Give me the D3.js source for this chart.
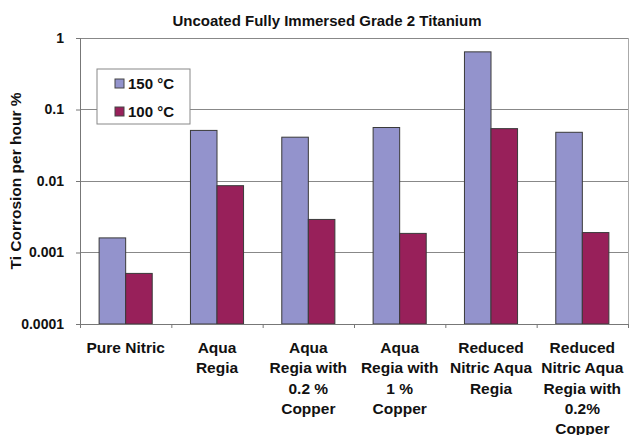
<!DOCTYPE html>
<html>
<head>
<meta charset="utf-8">
<script src="https://cdn.jsdelivr.net/npm/d3@7"></script>
<style>
  body { margin: 0; background: #fff; }
  text { font-family: "Liberation Sans", Arial, sans-serif; font-weight: bold; fill: #111; }
</style>
</head>
<body>
<svg id="chart" width="629" height="435"></svg>
<script>
var categories = [
  ["Pure Nitric"],
  ["Aqua", "Regia"],
  ["Aqua", "Regia with", "0.2 %", "Copper"],
  ["Aqua", "Regia with", "1 %", "Copper"],
  ["Reduced", "Nitric Aqua", "Regia"],
  ["Reduced", "Nitric Aqua", "Regia with", "0.2%", "Copper"]
];
var series = ["150 °C", "100 °C"];
var values150 = [0.0016, 0.051, 0.041, 0.056, 0.64, 0.048];
var values100 = [0.00051, 0.0086, 0.0029, 0.00185, 0.054, 0.0019];
var yTicks = [0.0001, 0.001, 0.01, 0.1, 1];
var yTickLabels = ["0.0001", "0.001", "0.01", "0.1", "1"];

var colors = ["#9393CC", "#98205A"];

var margin = { top: 38, right: 1, bottom: 111, left: 80 };
var svg = d3.select("#chart");
var width = 629 - margin.left - margin.right;
var height = 435 - margin.top - margin.bottom;

var g = svg.append("g").attr("transform", "translate(" + margin.left + "," + margin.top + ")");

var x0 = d3.scaleBand().domain(d3.range(categories.length)).range([0, width]).paddingInner(0).paddingOuter(0);
var x1 = d3.scaleBand().domain([0, 1]).range([0, x0.bandwidth()]).paddingInner(0).paddingOuter(0.72);
var y = d3.scaleLog().domain([0.0001, 1]).range([height, 0]);

// gridlines
g.selectAll(".grid").data(yTicks).enter().append("line")
  .attr("x1", 0).attr("x2", width)
  .attr("y1", function(d) { return y(d); }).attr("y2", function(d) { return y(d); })
  .attr("stroke", "#888").attr("stroke-width", 1).attr("shape-rendering", "crispEdges");

// plot border right
g.append("line").attr("x1", width).attr("x2", width).attr("y1", 0).attr("y2", height)
  .attr("stroke", "#aaa").attr("shape-rendering", "crispEdges");

// bars
var rows = categories.map(function(c, i) { return [values150[i], values100[i]]; });
var grp = g.selectAll(".cat").data(rows).enter().append("g")
  .attr("transform", function(d, i) { return "translate(" + x0(i) + ",0)"; });
grp.selectAll("rect").data(function(d) { return d; }).enter().append("rect")
  .attr("x", function(d, j) { return x1(j); })
  .attr("width", x1.bandwidth())
  .attr("y", function(d) { return y(d); })
  .attr("height", function(d) { return height - y(d); })
  .attr("fill", function(d, j) { return colors[j]; })
  .attr("stroke", "#3a3a3a").attr("stroke-width", 1);

// y axis
var yAxis = d3.axisLeft(y).tickValues(yTicks)
  .tickFormat(function(d, i) { return yTickLabels[i]; })
  .tickSize(4).tickPadding(12);
var ya = g.append("g").call(yAxis);
ya.select(".domain").attr("stroke", "#777");
ya.selectAll(".tick line").attr("stroke", "#777");
ya.selectAll("text").style("font-size", "14px").attr("fill", "#111");

// x axis
var xAxis = d3.axisBottom(d3.scaleLinear().domain([0, categories.length]).range([0, width]))
  .ticks(categories.length).tickFormat("").tickSize(4);
var xa = g.append("g").attr("transform", "translate(0," + height + ")").call(xAxis);
xa.select(".domain").attr("stroke", "#777");
xa.selectAll(".tick line").attr("stroke", "#777");

// category labels
g.selectAll(".clabel").data(categories).enter().append("text")
  .attr("text-anchor", "middle")
  .style("font-size", "15.5px")
  .each(function(lines, i) {
    var t = d3.select(this);
    lines.forEach(function(line, k) {
      t.append("tspan")
        .attr("x", x0(i) + x0.bandwidth() / 2)
        .attr("y", height + 29 + k * 20.3)
        .text(line);
    });
  });

// title
svg.append("text").attr("x", 327).attr("y", 26).attr("text-anchor", "middle")
  .style("font-size", "15px").text("Uncoated Fully Immersed Grade 2 Titanium");

// y title
svg.append("text").attr("transform", "translate(21," + (margin.top + height / 2) + ") rotate(-90)")
  .attr("text-anchor", "middle").style("font-size", "15.5px").text("Ti Corrosion per hour %");

// legend
var leg = svg.append("g").attr("transform", "translate(97,69)");
leg.append("rect").attr("width", 93).attr("height", 55).attr("fill", "#fff").attr("stroke", "#888");
series.forEach(function(s, i) {
  var ly = i * 28;
  leg.append("rect").attr("x", 18).attr("y", ly + 10).attr("width", 9).attr("height", 9)
    .attr("fill", colors[i]).attr("stroke", "#444");
  leg.append("text").attr("x", 31).attr("y", ly + 19.5).style("font-size", "15px").text(s);
});
</script>
</body>
</html>
